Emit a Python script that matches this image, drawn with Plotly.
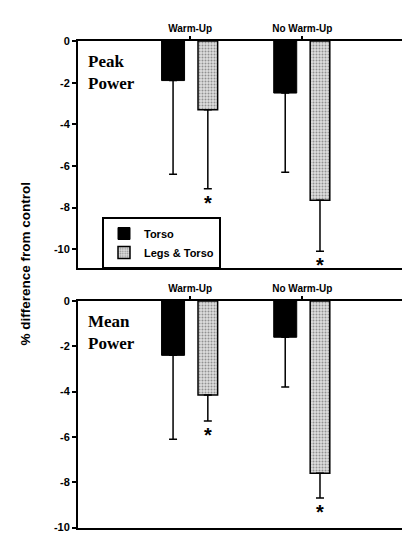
import plotly.graph_objects as go

categories = ["Warm-Up", "No Warm-Up"]
cat_pos = [1, 2]
series_names = ["Torso", "Legs & Torso"]

# Peak Power (% difference from control)
peak_torso = [-1.9, -2.5]
peak_torso_err = [4.5, 3.8]
peak_legs = [-3.3, -7.65]
peak_legs_err = [3.8, 2.45]

# Mean Power
mean_torso = [-2.4, -1.6]
mean_torso_err = [3.7, 2.2]
mean_legs = [-4.15, -7.6]
mean_legs_err = [1.15, 1.1]

significant = [True, True]  # Legs & Torso marked with *

ytick_vals = [0, -2, -4, -6, -8, -10]
ytick_text = ["0", "-2", "-4", "-6", "-8", "-10"]
panel_labels = ["Peak<br>Power", "Mean<br>Power"]
y_title = "% difference from control"

TORSO_W, TORSO_OFF = 0.205, -0.255
LEGS_W, LEGS_OFF = 0.175, 0.07

# page body has an 8px margin; figure sized to fit the window
OFF = 8
W, H = 410 - OFF, 533 - OFF

def px(x):
    return (x - OFF) / W

def py(y):
    return 1 - (y - OFF) / H

fig = go.Figure()

def add_panel(torso, torso_err, legs, legs_err, xa, ya, show):
    fig.add_trace(go.Bar(
        x=cat_pos, y=torso, width=TORSO_W, offset=TORSO_OFF, name=series_names[0],
        marker=dict(color="black", line=dict(color="black", width=1)),
        error_y=dict(type="data", symmetric=False, array=[0] * len(torso), arrayminus=torso_err,
                     color="black", thickness=1.5, width=4),
        xaxis=xa, yaxis=ya, showlegend=show, legendgroup="t"))
    fig.add_trace(go.Bar(
        x=cat_pos, y=legs, width=LEGS_W, offset=LEGS_OFF, name=series_names[1],
        marker=dict(color="#d8d8d8", line=dict(color="black", width=1.5),
                    pattern=dict(shape=".", fgcolor="#444444", bgcolor="#dedede", size=3, solidity=0.35)),
        error_y=dict(type="data", symmetric=False, array=[0] * len(legs), arrayminus=legs_err,
                     color="black", thickness=1.5, width=4),
        xaxis=xa, yaxis=ya, showlegend=show, legendgroup="l"))
    for c, v, e, s in zip(cat_pos, legs, legs_err, significant):
        if s:
            fig.add_annotation(x=c + LEGS_OFF + LEGS_W / 2, y=v - e, xref=xa, yref=ya,
                               text="*", showarrow=False, yanchor="top", yshift=-1,
                               font=dict(family="Liberation Sans", size=20, color="black", weight="bold"))

add_panel(peak_torso, peak_torso_err, peak_legs, peak_legs_err, "x", "y", True)
add_panel(mean_torso, mean_torso_err, mean_legs, mean_legs_err, "x2", "y2", False)

axis_font = dict(family="Liberation Sans", size=11, color="black", weight="bold")
xcommon = dict(range=[0, 2.96], side="top", tickvals=cat_pos, ticktext=categories,
               ticks="outside", ticklen=3, tickwidth=1.5, tickcolor="black",
               showline=True, linecolor="black", linewidth=2, mirror=True,
               showgrid=False, zeroline=False,
               tickfont=dict(family="Liberation Sans", size=10, color="black", weight="bold"),
               domain=[px(78), 1.0])
ycommon = dict(tickvals=ytick_vals, ticktext=ytick_text, ticks="outside", ticklen=4, tickwidth=1.5,
               tickcolor="black", showline=True, linecolor="black", linewidth=2, mirror=True,
               showgrid=False, zeroline=False, tickfont=axis_font, ticklabeloverflow="allow")

fig.update_layout(
    width=W, height=H, margin=dict(l=0, r=0, t=0, b=0, autoexpand=False),
    paper_bgcolor="white", plot_bgcolor="white",
    barmode="overlay",
    xaxis=dict(**xcommon, anchor="y"),
    xaxis2=dict(**xcommon, anchor="y2"),
    yaxis=dict(**ycommon, range=[-10.9, 0], domain=[py(268), py(41)], anchor="x"),
    yaxis2=dict(**ycommon, range=[-10.02, 0], domain=[py(528), py(301)], anchor="x2"),
    legend=dict(x=px(102), y=py(217), xanchor="left", yanchor="top",
                bordercolor="black", borderwidth=2, bgcolor="white",
                font=dict(family="Liberation Sans", size=11, color="black", weight="bold"),
                tracegroupgap=0, itemwidth=30),
    showlegend=True,
)

fig.add_annotation(x=px(86), y=py(50), xref="paper", yref="paper", text=panel_labels[0],
                   showarrow=False, xanchor="left", yanchor="top", align="left",
                   font=dict(family="Liberation Serif", size=17, color="black", weight="bold"))
fig.add_annotation(x=px(86), y=py(310), xref="paper", yref="paper", text=panel_labels[1],
                   showarrow=False, xanchor="left", yanchor="top", align="left",
                   font=dict(family="Liberation Serif", size=17, color="black", weight="bold"))
fig.add_annotation(x=px(15), y=py(264), xref="paper", yref="paper", text=y_title,
                   showarrow=False, textangle=-90,
                   font=dict(family="Liberation Sans", size=13.5, color="black", weight="bold"))

fig.write_html("out.html")
